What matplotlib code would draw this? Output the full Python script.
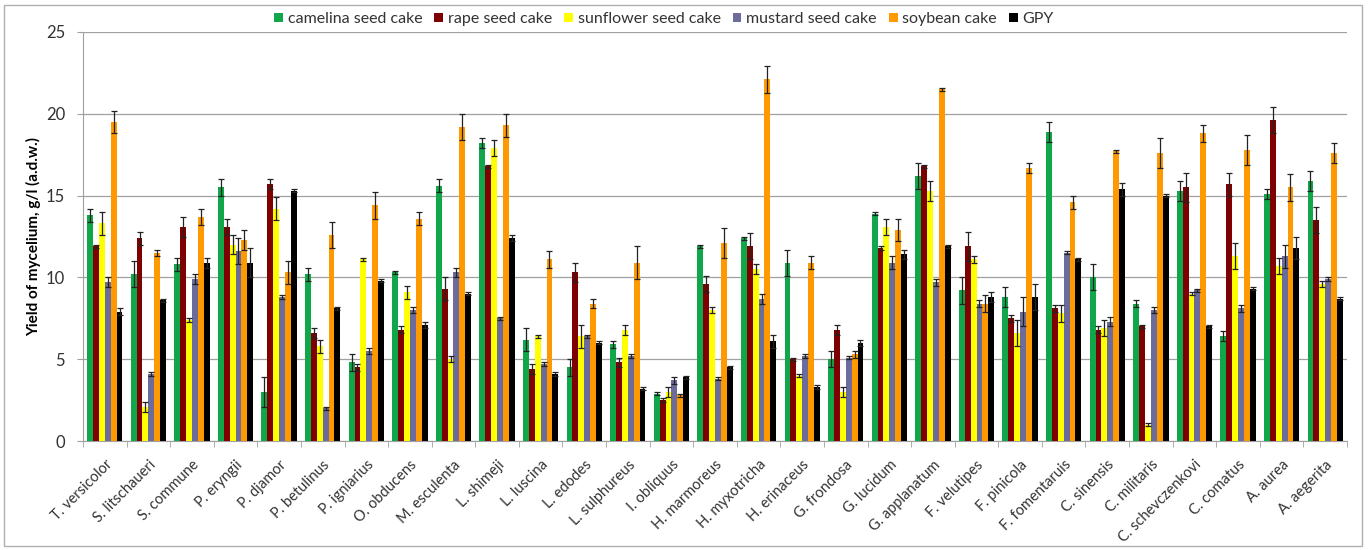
import numpy as np
import matplotlib.pyplot as plt
from matplotlib.patches import Rectangle

species = ["T. versicolor", "S. litschaueri", "S. commune", "P. eryngii", "P. djamor",
           "P. betulinus", "P. igniarius", "O. obducens", "M. esculenta", "L. shimeji",
           "L. luscina", "L. edodes", "L. sulphureus", "I. obliquus", "H. marmoreus",
           "H. myxotricha", "H. erinaceus", "G. frondosa", "G. lucidum", "G. applanatum",
           "F. velutipes", "F. pinicola", "F. fomentaruis", "C. sinensis", "C. militaris",
           "C. schevczenkovi", "C. comatus", "A. aurea", "A. aegerita"]

series_names = ["camelina seed cake", "rape seed cake", "sunflower seed cake",
                "mustard seed cake", "soybean cake", "GPY"]

camelina = [13.8, 10.2, 10.8, 15.5, 3.0, 10.2, 4.8, 10.3, 15.6, 18.2,
            6.2, 4.5, 5.9, 2.9, 11.9, 12.4, 10.9, 5.0, 13.9, 16.2,
            9.2, 8.8, 18.9, 10.0, 8.4, 15.3, 6.4, 15.1, 15.9]
rape = [11.9, 12.4, 13.1, 13.1, 15.7, 6.6, 4.5, 6.8, 9.3, 16.8,
        4.4, 10.3, 4.8, 2.5, 9.6, 11.9, 5.0, 6.8, 11.8, 16.8,
        11.9, 7.5, 8.1, 6.8, 7.0, 15.5, 15.7, 19.6, 13.5]
sunflower = [13.3, 2.1, 7.4, 12.0, 14.2, 5.8, 11.1, 9.1, 5.0, 17.9,
             6.4, 6.4, 6.8, 3.0, 8.0, 10.5, 4.0, 3.0, 13.1, 15.3,
             11.1, 6.6, 7.8, 6.9, 1.0, 9.0, 11.3, 10.7, 9.6]
mustard = [9.7, 4.1, 9.9, 11.6, 8.8, 2.0, 5.5, 8.0, 10.3, 7.5,
           4.7, 6.4, 5.2, 3.7, 3.8, 8.7, 5.2, 5.1, 10.9, 9.7,
           8.4, 7.9, 11.5, 7.3, 8.0, 9.2, 8.1, 11.3, 9.9]
soybean = [19.5, 11.5, 13.7, 12.3, 10.3, 12.6, 14.4, 13.6, 19.2, 19.3,
           11.1, 8.4, 10.9, 2.8, 12.1, 22.1, 10.9, 5.3, 12.9, 21.5,
           8.4, 16.7, 14.6, 17.7, 17.6, 18.8, 17.8, 15.5, 17.6]
gpy = [7.9, 8.6, 10.9, 10.9, 15.3, 8.1, 9.8, 7.1, 9.0, 12.4,
       4.1, 6.0, 3.2, 3.9, 4.5, 6.1, 3.3, 6.0, 11.4, 11.9,
       8.8, 8.8, 11.1, 15.4, 15.0, 7.0, 9.3, 11.8, 8.7]

camelina_err = [0.4, 0.8, 0.4, 0.5, 0.9, 0.4, 0.5, 0.1, 0.4, 0.3,
                0.7, 0.5, 0.2, 0.1, 0.1, 0.1, 0.8, 0.5, 0.1, 0.8,
                0.8, 0.6, 0.6, 0.8, 0.2, 0.6, 0.3, 0.3, 0.6]
rape_err = [0.1, 0.4, 0.6, 0.5, 0.3, 0.3, 0.2, 0.2, 0.7, 0.1,
            0.3, 0.6, 0.3, 0.1, 0.5, 0.8, 0.1, 0.3, 0.1, 0.1,
            0.9, 0.2, 0.2, 0.2, 0.1, 0.9, 0.7, 0.8, 0.8]
sunflower_err = [0.7, 0.3, 0.1, 0.6, 0.7, 0.4, 0.1, 0.4, 0.2, 0.5,
                 0.1, 0.7, 0.3, 0.3, 0.2, 0.3, 0.1, 0.3, 0.5, 0.6,
                 0.2, 0.8, 0.5, 0.5, 0.1, 0.1, 0.8, 0.5, 0.2]
mustard_err = [0.3, 0.1, 0.3, 0.8, 0.1, 0.1, 0.2, 0.2, 0.3, 0.1,
               0.1, 0.1, 0.1, 0.2, 0.1, 0.3, 0.1, 0.1, 0.4, 0.2,
               0.2, 0.9, 0.1, 0.3, 0.2, 0.1, 0.2, 0.7, 0.1]
soybean_err = [0.7, 0.2, 0.5, 0.6, 0.7, 0.8, 0.8, 0.4, 0.8, 0.7,
               0.5, 0.3, 1.0, 0.1, 0.9, 0.8, 0.4, 0.2, 0.7, 0.1,
               0.5, 0.3, 0.4, 0.1, 0.9, 0.5, 0.9, 0.8, 0.6]
gpy_err = [0.2, 0.1, 0.3, 0.9, 0.1, 0.1, 0.1, 0.2, 0.1, 0.2,
           0.1, 0.1, 0.1, 0.1, 0.1, 0.4, 0.1, 0.2, 0.3, 0.1,
           0.3, 0.8, 0.1, 0.4, 0.1, 0.1, 0.1, 0.7, 0.1]

colors = ["#10a64a", "#7f0000", "#ffff00", "#6b6b9c", "#ff9900", "#000000"]

values = [camelina, rape, sunflower, mustard, soybean, gpy]
errors = [camelina_err, rape_err, sunflower_err, mustard_err, soybean_err, gpy_err]

plt.rcParams['font.family'] = ['Lato', 'DejaVu Sans']

fig = plt.figure(figsize=(13.68, 5.5), dpi=100)
ax = fig.add_axes([83 / 1368, 1 - 441 / 550, (1347 - 83) / 1368, (441 - 32) / 550])

x = np.arange(len(species))
w = 0.135
for k in range(6):
    ax.bar(x + (k - 2.5) * w, values[k], w, color=colors[k], label=series_names[k],
           yerr=errors[k], capsize=2.5, zorder=3,
           error_kw=dict(elinewidth=0.9, capthick=0.9, ecolor="#222222"))

ax.set_xlim(-0.5, len(species) - 0.5)
ax.set_ylim(0, 25)
ax.set_yticks([0, 5, 10, 15, 20, 25])
ax.yaxis.grid(True, color="#a0a0a0", linewidth=0.9, zorder=0)
ax.set_axisbelow(True)

ax.set_xticks(x)
ax.set_xticklabels(species, rotation=45, ha="right", rotation_mode="anchor",
                   fontsize=10.5, color="#333333")
ax.set_xticks(np.arange(len(species) + 1) - 0.5, minor=True)
ax.tick_params(axis="x", which="major", length=0, pad=12)
ax.tick_params(axis="x", which="minor", length=4, color="#a0a0a0")
ax.tick_params(axis="y", length=4, color="#a0a0a0", labelsize=12, labelcolor="#333333", pad=9)

for s in ["top", "right"]:
    ax.spines[s].set_visible(False)
ax.spines["left"].set_color("#a0a0a0")
ax.spines["bottom"].set_color("#a0a0a0")

ax.set_ylabel("Yield of mycelium, g/l (a.d.w.)", fontsize=11, fontweight="bold", labelpad=3)

fig.legend(loc="center", bbox_to_anchor=(664 / 1368, 1 - 19 / 550), ncol=6, frameon=False,
           fontsize=11.5, handlelength=0.55, handleheight=0.55, handletextpad=0.3,
           columnspacing=0.75, labelcolor="#333333")

fig.patches.append(Rectangle((4 / 1368, 4 / 550), 1358 / 1368, 541 / 550,
                             transform=fig.transFigure, fill=False,
                             edgecolor="#b0b0b0", linewidth=1))

fig.savefig("out.png", dpi=100)
